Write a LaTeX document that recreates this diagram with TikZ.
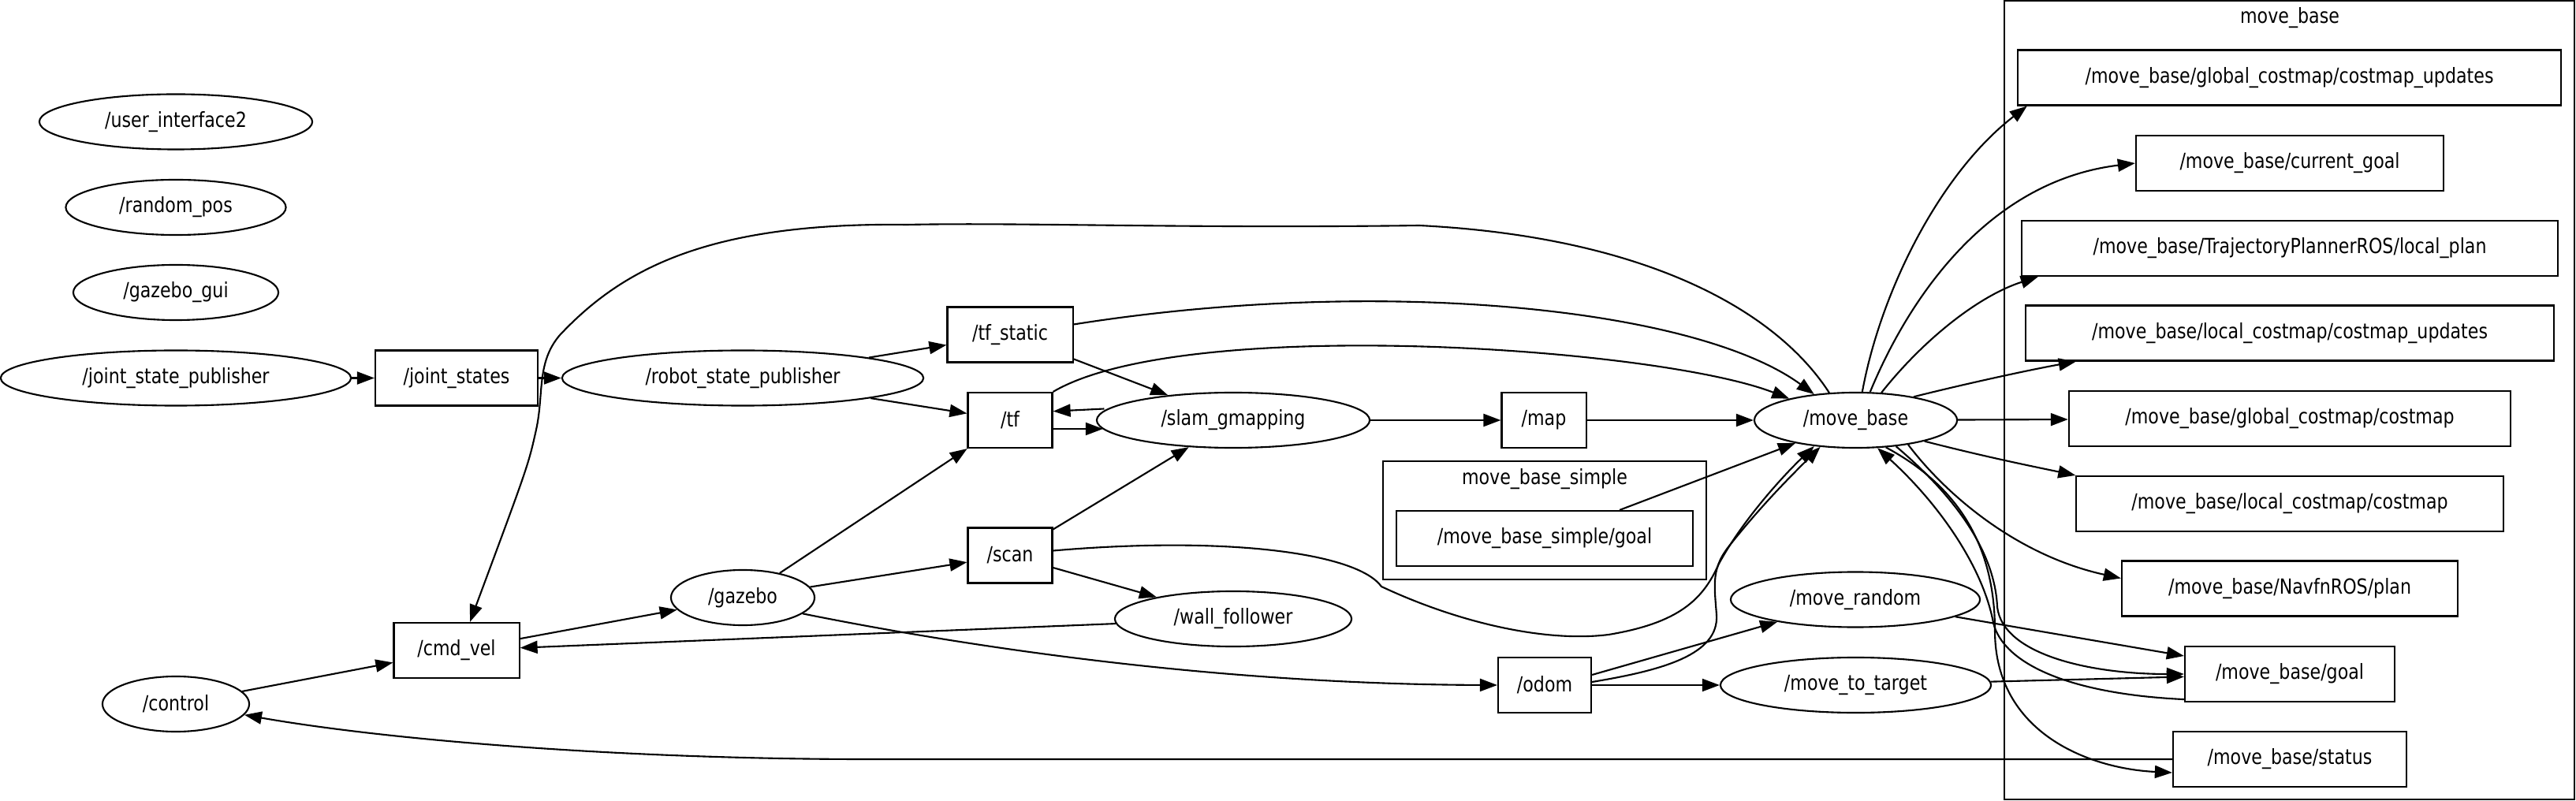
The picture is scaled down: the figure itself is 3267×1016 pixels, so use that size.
\documentclass[tikz,border=0pt]{standalone}
\usepackage{fontspec}
\setmainfont{DejaVu Sans}[FakeStretch=0.84]
\usetikzlibrary{arrows.meta, shapes.geometric}

\begin{document}
\begin{tikzpicture}[>={Triangle[length=2.2mm, width=1.6mm]}, x=0.01cm, y=-0.01cm, line width=0.6pt,
    font=\fontsize{7.5}{9}\selectfont,
    rosnode/.style={draw, ellipse, minimum height=0.7cm, inner sep=0pt},
    rostopic/.style={draw, rectangle, minimum height=0.7cm, inner sep=0pt}]
    \useasboundingbox (0,0) rectangle (3267,1016);

    % clusters
    \node[draw, minimum width=4.1cm, minimum height=1.5cm] (simple_box) at (1959,660) {};
    \node (simple_label) at (1959,608) {move\_base\_simple};
    \node[draw, minimum width=7.23cm, minimum height=10.13cm] (mb_box) at (2903.5,507.5) {};
    \node (mb_label) at (2904,23) {move\_base};

    % left column
    \node[rosnode, minimum width=3.46cm] (ui2) at (223,154.5) {/user\_interface2};
    \node[rosnode, minimum width=2.79cm] (random_pos) at (223,263) {/random\_pos};
    \node[rosnode, minimum width=2.6cm] (gazebo_gui) at (223,371) {/gazebo\_gui};
    \node[rosnode, minimum width=4.44cm] (jsp) at (223,479.5) {/joint\_state\_publisher};
    \node[rosnode, minimum width=1.86cm] (control) at (223,893) {/control};

    \node[rostopic, minimum width=2.06cm] (joint_states) at (579,479.5) {/joint\_states};
    \node[rostopic, minimum width=1.59cm] (cmd_vel) at (579,825) {/cmd\_vel};
    \node[rosnode, minimum width=4.58cm] (rsp) at (942,479.5) {/robot\_state\_publisher};
    \node[rosnode, minimum width=1.82cm] (gazebo) at (942,758) {/gazebo};

    \node[rostopic, minimum width=1.59cm] (tf_static) at (1281,424.5) {/tf\_static};
    \node[rostopic, minimum width=1.07cm] (tf) at (1281,533) {/tf};
    \node[rostopic, minimum width=1.07cm] (scan) at (1281,704.5) {/scan};
    \node[rosnode, minimum width=3.46cm] (slam) at (1564,533) {/slam\_gmapping};
    \node[rosnode, minimum width=3.0cm] (wall_follower) at (1564,785) {/wall\_follower};

    \node[rostopic, minimum width=1.07cm] (map) at (1958,533) {/map};
    \node[rostopic, minimum width=3.76cm] (simple_goal) at (1959,683) {/move\_base\_simple/goal};
    \node[rostopic, minimum width=1.18cm] (odom) at (1959,869) {/odom};

    \node[rosnode, minimum width=2.57cm] (move_base) at (2353.5,533) {/move\_base};
    \node[rosnode, minimum width=3.16cm] (move_random) at (2353,760.5) {/move\_random};
    \node[rosnode, minimum width=3.43cm] (move_to_target) at (2353.5,869) {/move\_to\_target};

    % move_base topics
    \node[rostopic, minimum width=6.89cm] (gc_updates) at (2903.5,98.5) {/move\_base/global\_costmap/costmap\_updates};
    \node[rostopic, minimum width=3.9cm] (current_goal) at (2904,207) {/move\_base/current\_goal};
    \node[rostopic, minimum width=6.8cm] (local_plan) at (2904,315) {/move\_base/TrajectoryPlannerROS/local\_plan};
    \node[rostopic, minimum width=6.7cm] (lc_updates) at (2904,422.5) {/move\_base/local\_costmap/costmap\_updates};
    \node[rostopic, minimum width=5.6cm] (gc_costmap) at (2904,531) {/move\_base/global\_costmap/costmap};
    \node[rostopic, minimum width=5.41cm] (lc_costmap) at (2904,639) {/move\_base/local\_costmap/costmap};
    \node[rostopic, minimum width=4.26cm] (navfn) at (2904,746.5) {/move\_base/NavfnROS/plan};
    \node[rostopic, minimum width=2.66cm] (goal) at (2904,855) {/move\_base/goal};
    \node[rostopic, minimum width=2.96cm] (status) at (2904,963) {/move\_base/status};

    % edges
    \draw[->] (jsp) -- (joint_states);
    \draw[->] (joint_states) -- (rsp);
    \draw[->] (rsp) -- (tf_static);
    \draw[->] (rsp) -- (tf);
    \draw[->] (tf_static) -- (slam);
    \draw[->] ([shift={(0.106cm,0.145cm)}]slam.west) -- ([yshift=0.113cm]tf.east);
    \draw[->] ([yshift=-0.11cm]tf.east) -- ([shift={(0.09cm,-0.11cm)}]slam.west);
    \draw[->] (slam) -- (map);
    \draw[->] (map) -- (move_base);
    \draw[->] ([xshift=0.95cm]simple_goal.north) -- (move_base);
    \draw[->] (gazebo) -- (tf);
    \draw[->] (gazebo) -- (scan);
    \draw[->] (gazebo.345) .. controls (1300,835) and (1600,868) .. (odom.west);
    \draw[->] (scan) -- (slam);
    \draw[->] (scan) -- (wall_follower);
    \draw[->] ([yshift=0.06cm]scan.east) .. controls (1550,680) and (1720,700) .. (1752,744)
        .. controls (1850,790) and (1960,815) .. (2040,805) .. controls (2130,790) and (2160,760) .. (2180,715)
        .. controls (2210,660) and (2260,605) .. (move_base.212);
    \draw[->] ([yshift=0.04cm]odom.east) .. controls (2110,850) and (2180,830) .. (2177,780)
        .. controls (2174,740) and (2170,720) .. (2195,690) .. controls (2235,640) and (2270,605) .. (move_base.217);
    \draw[->] ([yshift=0.13cm]odom.east) -- (move_random);
    \draw[->] (odom) -- (move_to_target);
    \draw[->] (wall_follower) -- (cmd_vel);
    \draw[->] (cmd_vel) -- (gazebo);
    \draw[->] (control) -- (cmd_vel);
    \draw[->] (status.west) -- (1100,963) .. controls (800,963) and (500,940) .. (control.351);
    \draw[->] (move_base.134) .. controls (2250,390) and (2080,300) .. (1800,286)
        .. controls (1500,290) and (1300,282) .. (1150,285) .. controls (900,282) and (790,340) .. (710,425)
        .. controls (680,460) and (690,500) .. (680,545) .. controls (670,590) .. ([xshift=0.17cm]cmd_vel.north);
    \draw[->] ([yshift=0.13cm]tf_static.east) .. controls (1750,350) and (2150,390) .. (move_base.148);
    \draw[->] (tf.north east) .. controls (1500,400) and (2100,440) .. (move_base.162);

    \draw[->] (move_base.77) .. controls (2385,370) and (2460,220) .. ([xshift=0.13cm]gc_updates.south west);
    \draw[->] (move_base.63) .. controls (2420,380) and (2520,230) .. (current_goal.west);
    \draw[->] (move_base.47) .. controls (2440,430) and (2510,375) .. ([xshift=0.22cm]local_plan.south west);
    \draw[->] (move_base.22) .. controls (2500,485) and (2580,468) .. ([xshift=0.65cm]lc_updates.south west);
    \draw[->] (move_base) -- (gc_costmap);
    \draw[->] (move_base.343) .. controls (2520,580) and (2580,592) .. (lc_costmap.north west);
    \draw[->] (move_base.335) .. controls (2470,630) and (2560,705) .. ([yshift=0.13cm]navfn.west);
    \draw[->] (move_base.327) .. controls (2480,630) and (2530,700) .. (2533,770)
        .. controls (2540,830) and (2650,855) .. (goal.west);
    \draw[->] ([yshift=0.04cm]goal.south west) .. controls (2620,880) and (2540,840) .. (2528,790)
        .. controls (2515,720) and (2460,640) .. (move_base.308);
    \draw[->] (move_base.318) .. controls (2490,620) and (2530,700) .. (2530,800)
        .. controls (2530,930) and (2650,975) .. ([yshift=-0.17cm]status.west);
    \draw[->] (move_random) -- (goal);
    \draw[->] (move_to_target) -- (goal);
\end{tikzpicture}
\end{document}
